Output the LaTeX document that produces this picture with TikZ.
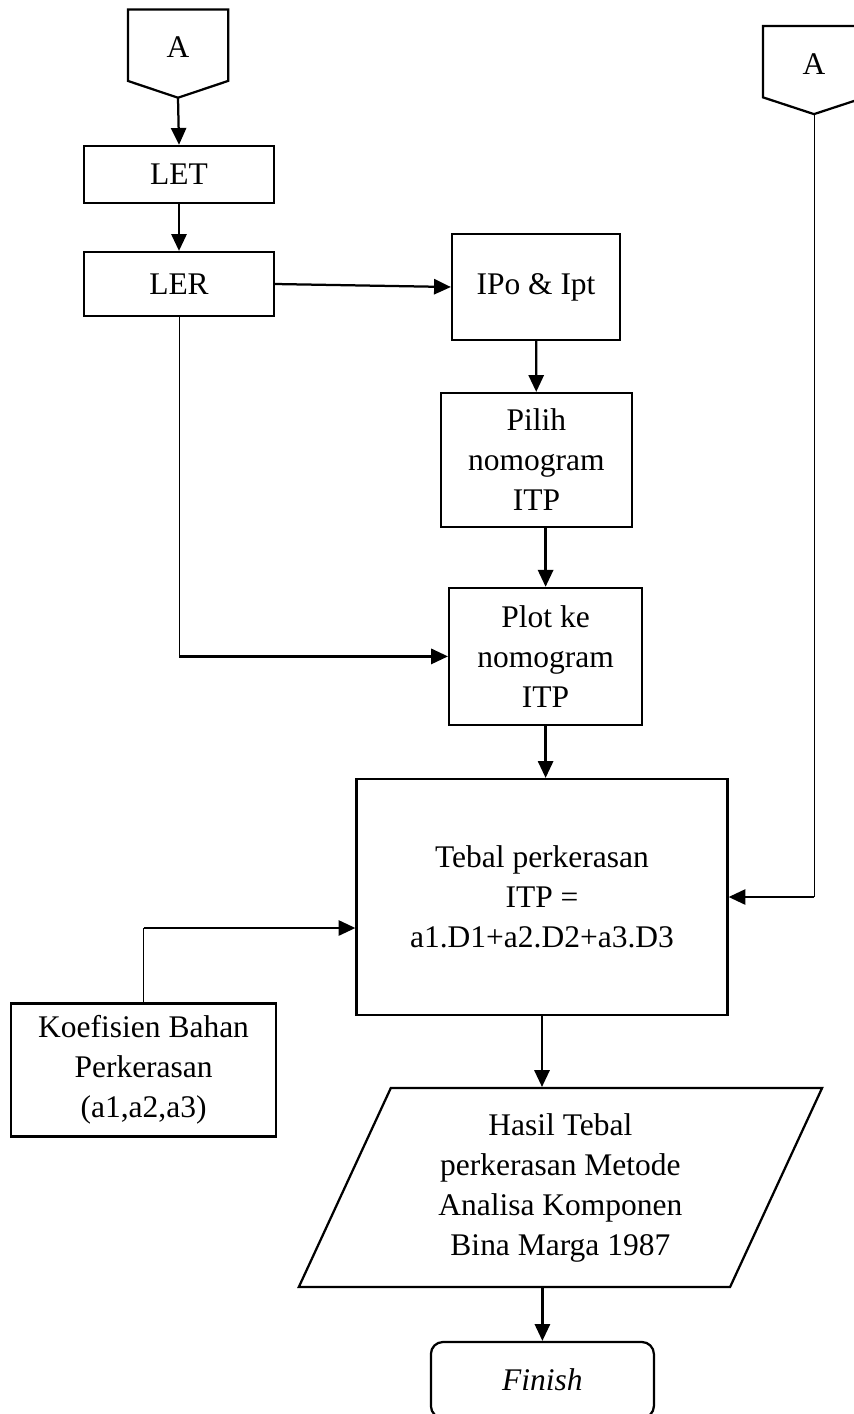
\documentclass[tikz,border=0pt]{standalone}
\usepackage{fontspec}
\setmainfont{Liberation Serif}
\usetikzlibrary{arrows.meta,positioning,shapes.geometric,calc}

\begin{document}
\begin{tikzpicture}[proses/.style={draw=black, line width=1.6pt, fill=white, align=center, inner sep=2pt, font=\fontsize{22.4}{28.45}\selectfont}, konektor/.style={proses, draw=none, fill=none, minimum width=2.45cm, minimum height=2.15cm, text depth=0.3cm}, hasilbox/.style={proses, trapezium, trapezium left angle=66, trapezium right angle=114, trapezium stretches=true, inner sep=0pt, minimum width=13.125cm, minimum height=4.975cm}, selesai/.style={proses, rounded corners=0.3cm, minimum width=5.575cm, minimum height=1.9cm}, arr/.style={-{Triangle[length=0.42cm, width=0.38cm]}, line width=1.6pt, draw=black}, garis/.style={line width=0.7pt, draw=black}
]
  \useasboundingbox (0,0) rectangle (21.325,-35.35);
  \node[konektor] (a1) at (4.45,-1.34) {A};
  \node[konektor, minimum width=2.5cm] (a2) at (20.35,-1.75) {A};
  \draw[line width=1.6pt] (a1.north west) -- (a1.north east) -- ([yshift=0.42cm]a1.south east) -- (a1.south) -- ([yshift=0.42cm]a1.south west) -- cycle;
  \draw[line width=1.6pt] (a2.north west) -- (a2.north east) -- ([yshift=0.42cm]a2.south east) -- (a2.south) -- ([yshift=0.42cm]a2.south west) -- cycle;
  \node[proses, minimum width=4.75cm, minimum height=1.425cm] (let) at (4.475,-4.36) {LET};
  \node[proses, minimum width=4.75cm, minimum height=1.6cm] (ler) at (4.475,-7.1) {LER};
  \node[proses, minimum width=4.2cm, minimum height=2.65cm] (ipo) at (13.4,-7.175) {IPo \& Ipt};
  \node[proses, minimum width=4.775cm, minimum height=3.35cm] (pilih) at (13.41,-11.5) {Pilih\\nomogram\\ITP};
  \node[proses, minimum width=4.825cm, minimum height=3.425cm] (plot) at (13.64,-16.41) {Plot ke\\nomogram\\ITP};
  \node[proses, minimum width=9.275cm, minimum height=5.9cm] (tebal) at (13.55,-22.425) {Tebal perkerasan\\ITP =\\a1.D1+a2.D2+a3.D3};
  \node[proses, minimum width=6.625cm, minimum height=3.325cm] (koef) at (3.59,-26.75) {Koefisien Bahan\\Perkerasan\\(a1,a2,a3)};
  \node[hasilbox] (hasil) at (14.01,-29.69) {Hasil Tebal\\perkerasan Metode\\Analisa Komponen\\Bina Marga 1987};
  \node[selesai] (finish) at (13.56,-34.5) {\textit{Finish}};
  \coordinate (belok1) at (ler.south |- plot.west);
  \coordinate (masuk) at ([yshift=-0.775cm]tebal.west);
  \draw[arr] (a1.south) -- (let.north);
  \draw[arr] (let) -- (ler);
  \draw[arr] (ler.east) -- (ipo.west);
  \draw[arr] (ipo) -- (pilih);
  \draw[arr] (pilih.south -| plot.north) -- (plot.north);
  \draw[arr] (plot.south) -- (plot.south |- tebal.north);
  \draw[arr] (tebal.south) -- (tebal.south |- hasil.north);
  \draw[arr] (finish.north |- hasil.south) -- (finish.north);
  \draw[garis] (ler.south) -- (belok1);
  \draw[arr] (belok1) -- (plot.west);
  \draw[garis] (koef.north) -- (koef.north |- masuk);
  \draw[arr] (koef.north |- masuk) -- (masuk);
  \draw[garis] (a2.south) -- (a2.south |- tebal.east);
  \draw[arr] (a2.south |- tebal.east) -- (tebal.east);
\end{tikzpicture}
\end{document}
